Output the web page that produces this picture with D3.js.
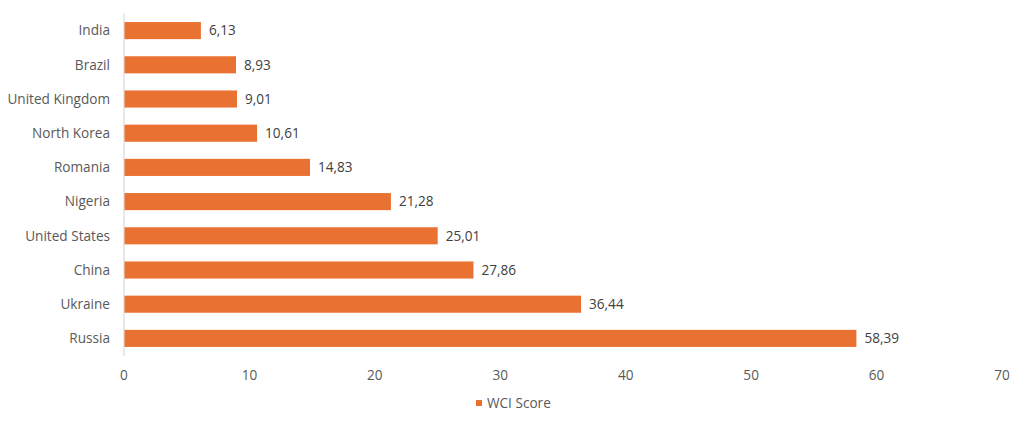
<!DOCTYPE html>
<html><head><meta charset="utf-8">
<script src="https://cdn.jsdelivr.net/npm/d3@7"></script>
<style>body{margin:0;background:#fff;} svg{display:block;font-family:"Open Sans",sans-serif;}</style>
</head><body>
<svg id="c" width="1024" height="424"></svg>
<script>
const categories = ["India","Brazil","United Kingdom","North Korea","Romania","Nigeria","United States","China","Ukraine","Russia"];
const values = [6.13,8.93,9.01,10.61,14.83,21.28,25.01,27.86,36.44,58.39];
const xTicks = [0,10,20,30,40,50,60,70];
const seriesName = "WCI Score";

const svg = d3.select("#c");
const x = d3.scaleLinear().domain([0,70]).range([124,1002]);
const y = d3.scaleBand().domain(categories).range([13.5,355.5]).paddingInner(0.5).paddingOuter(0.25);
const color = "#E97132", textCol = "#595959";
const fmt = v => v.toFixed(2).replace(".", ",");
const fs = 13.6;

svg.append("line").attr("x1",x(0)).attr("x2",x(0)).attr("y1",13.5).attr("y2",356)
  .attr("stroke","#d9d9d9").attr("stroke-width",1.2);

svg.selectAll("rect.bar").data(values).join("rect").attr("class","bar")
  .attr("x",x(0)+0.5).attr("y",(d,i)=>y(categories[i]))
  .attr("width",d=>x(d)-x(0)-0.5).attr("height",y.bandwidth()).attr("fill",color);

svg.selectAll("text.val").data(values).join("text").attr("class","val")
  .attr("x",d=>x(d)+8).attr("y",(d,i)=>y(categories[i])+y.bandwidth()/2)
  .attr("dy","0.35em").attr("font-size",fs).attr("fill","#404040").text(fmt);

svg.selectAll("text.cat").data(categories).join("text").attr("class","cat")
  .attr("x",110).attr("y",d=>y(d)+y.bandwidth()/2).attr("dy","0.35em")
  .attr("text-anchor","end").attr("font-size",fs).attr("fill",textCol).text(d=>d);

svg.selectAll("text.tick").data(xTicks).join("text").attr("class","tick")
  .attr("x",d=>x(d)).attr("y",375.5).attr("dy","0.35em").attr("text-anchor","middle")
  .attr("font-size",fs).attr("fill",textCol).text(d=>d);

svg.append("rect").attr("x",476).attr("y",400).attr("width",6).attr("height",6).attr("fill",color);
svg.append("text").attr("x",487).attr("y",403.5).attr("dy","0.35em").attr("font-size",fs)
  .attr("fill",textCol).text(seriesName);
</script>
</body></html>
